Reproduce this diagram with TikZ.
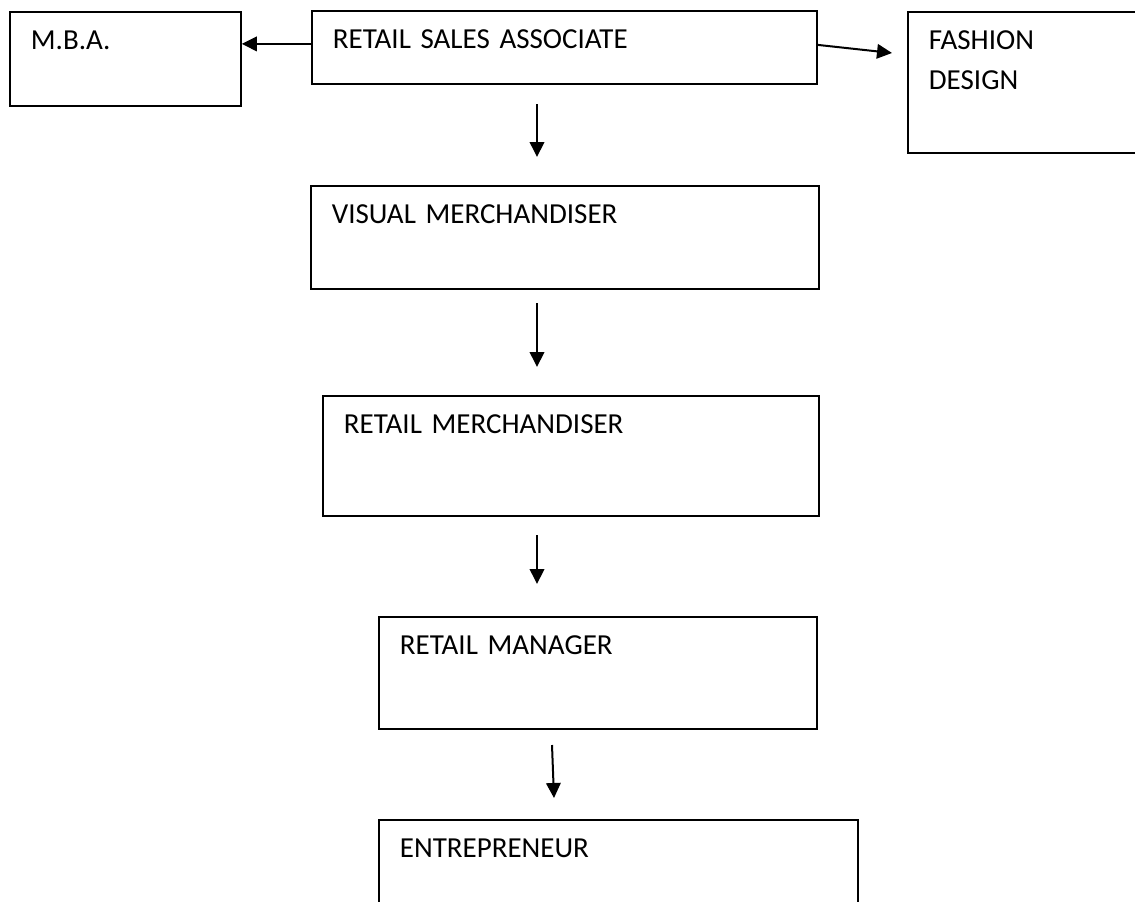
\documentclass[tikz,border=0pt]{standalone}
\usepackage{fontspec}
\setmainfont{Carlito}
\usetikzlibrary{arrows.meta,calc}
\tikzset{
  box/.style={draw, line width=1.8pt, inner xsep=21pt, inner ysep=0pt,
    anchor=north west, align=left, text height=38pt,
    font=\fontsize{29}{40}\selectfont},
  arr/.style={line width=2pt, -{Triangle[length=15pt,width=14.5pt]}}
}
\begin{document}
\begin{tikzpicture}[x=1pt,y=-1pt]
\useasboundingbox (0,0) rectangle (1135,902);
\node[box, text width=189pt, text depth=56pt] (mba) at (9,11) {M.B.A.};
\node[box, text width=463pt, text depth=35pt] (rsa) at (311,10) {RETAIL SALES ASSOCIATE};
\node[box, text width=191pt, text depth=103pt] (fd) at (907,11) {FASHION\\DESIGN};
\node[box, text width=466pt, text depth=65pt] (vm) at (310,185) {VISUAL MERCHANDISER};
\node[box, text width=454pt, text depth=82pt] (rm) at (322,395) {RETAIL MERCHANDISER};
\node[box, text width=396pt, text depth=74pt] (rmg) at (378,616) {RETAIL MANAGER};
\node[box, text width=437pt, text depth=60pt] (ent) at (378,819) {ENTREPRENEUR};

\coordinate (fdin) at (892,53);
\coordinate (a1s) at (537,104);
\coordinate (a1e) at (537,157);
\coordinate (a2s) at (537,303);
\coordinate (a2e) at (537,367);
\coordinate (a3s) at (537,535);
\coordinate (a3e) at (537,584);
\coordinate (a4s) at (552,745);
\coordinate (a4e) at (554,798);

\draw[arr] ([yshift=3.5pt]rsa.west) -- ([yshift=3.5pt]rsa.west -| mba.east);
\draw[arr] ([yshift=2.5pt]rsa.east) -- (fdin);
\draw[arr] (a1s) -- (a1e);
\draw[arr] (a2s) -- (a2e);
\draw[arr] (a3s) -- (a3e);
\draw[arr] (a4s) -- (a4e);
\end{tikzpicture}
\end{document}
